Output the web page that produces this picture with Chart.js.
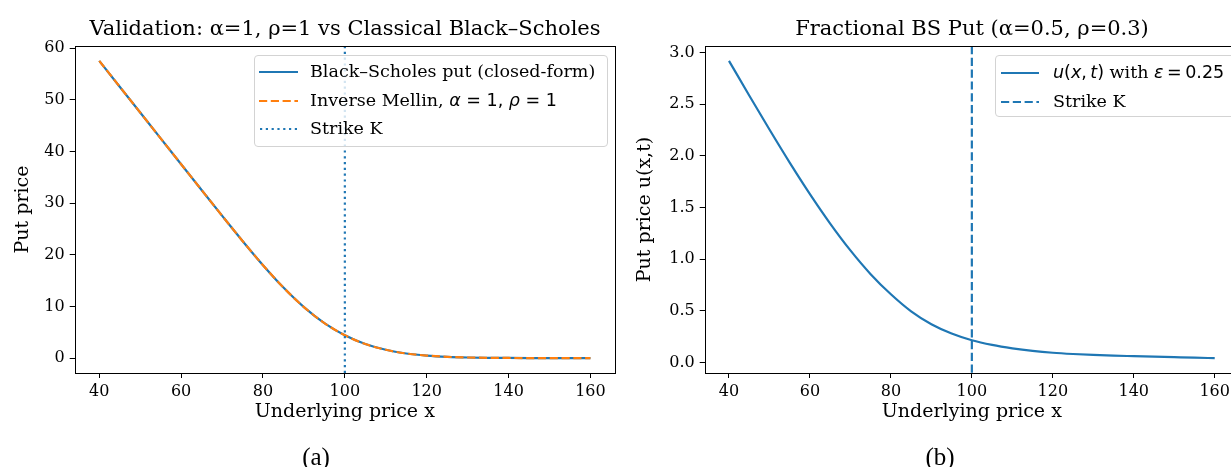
<!DOCTYPE html>
<html><head><meta charset="utf-8">
<script src="https://cdn.jsdelivr.net/npm/chart.js@4.4.1/dist/chart.umd.min.js"></script>
<style>
html,body{margin:0;padding:0;background:#fff;overflow:hidden;width:1231px;height:467px;}
#wrap{position:relative;width:1231px;height:467px;overflow:hidden;}
canvas{position:absolute;top:0;}
.t{position:absolute;font-family:"DejaVu Serif";color:#000;white-space:nowrap;transform:translate(-50%,-50%);line-height:1;}
.sub{font-family:"Liberation Serif";font-size:25px;}
.leg{position:absolute;border:1px solid #d3d3d3;border-radius:4px;background:rgba(255,255,255,0.8);font-family:"DejaVu Serif";font-size:17.5px;color:#000;box-sizing:border-box;}
.row{position:absolute;white-space:nowrap;line-height:20px;height:20px;}
.h{position:absolute;}
.m{font-family:"DejaVu Sans";font-style:italic;}
.s{font-family:"DejaVu Sans";}
</style></head><body>
<div id="wrap">
<canvas id="c1" width="640" height="467" style="left:0"></canvas>
<canvas id="c2" width="640" height="467" style="left:620px"></canvas>

<div class="t" style="left:345px;top:28px;font-size:21px;">Validation: α=1, ρ=1 vs Classical Black–Scholes</div>
<div class="t" style="left:972px;top:28px;font-size:21px;">Fractional BS Put (α=0.5, ρ=0.3)</div>
<div class="t sub" style="left:316px;top:456px;">(a)</div>
<div class="t sub" style="left:940px;top:456px;">(b)</div>

<div class="leg" style="left:254px;top:55px;width:354px;height:92px;">
  <svg class="h" style="left:4px;top:12px" width="40" height="8"><line x1="0" y1="4" x2="39" y2="4" stroke="#1f77b4" stroke-width="2.2"/></svg>
  <div class="row" style="left:55px;top:5px;">Black–Scholes put (closed-form)</div>
  <svg class="h" style="left:4px;top:41px" width="40" height="8"><line x1="0" y1="4" x2="39" y2="4" stroke="#ff7f0e" stroke-width="2.2" stroke-dasharray="8.2 3.6"/></svg>
  <div class="row" style="left:55px;top:34px;">Inverse Mellin, <span class="m">α</span><span class="s"> = 1, </span> <span class="m">ρ</span><span class="s"> = 1</span></div>
  <svg class="h" style="left:4px;top:69px" width="40" height="8"><line x1="1" y1="4" x2="39" y2="4" stroke="#1f77b4" stroke-width="2.2" stroke-dasharray="2.2 3.6"/></svg>
  <div class="row" style="left:55px;top:62px;">Strike K</div>
</div>

<div class="leg" style="left:995px;top:55px;width:242px;height:62px;">
  <svg class="h" style="left:5px;top:13px" width="40" height="8"><line x1="0" y1="4" x2="38" y2="4" stroke="#1f77b4" stroke-width="2.2"/></svg>
  <div class="row" style="left:57px;top:6px;"><span class="m">u</span><span class="s">(</span><span class="m">x</span><span class="s">,&#8201;</span><span class="m">t</span><span class="s">)</span> with <span class="m">ε</span><span class="s">&#8201;=&#8201;0.25</span></div>
  <svg class="h" style="left:5px;top:42px" width="40" height="8"><line x1="0" y1="4" x2="38" y2="4" stroke="#1f77b4" stroke-width="2.2" stroke-dasharray="8.2 3.6"/></svg>
  <div class="row" style="left:57px;top:35px;">Strike K</div>
</div>
</div>

<script>
// ---- data ----
const xValues   = [40,45,50,55,60,65,70,75,80,85,90,95,100,105,110,115,120,125,130,135,140,145,150,155,160];
const bsPut     = [57.53,52.53,47.53,42.53,37.53,32.54,27.57,22.68,17.99,13.66,9.88,6.78,4.42,2.73,1.61,0.90,0.49,0.25,0.12,0.06,0.03,0.013,0.006,0.003,0.001];
const mellinPut = [57.53,52.53,47.53,42.53,37.53,32.54,27.57,22.68,17.99,13.66,9.88,6.78,4.42,2.73,1.61,0.90,0.49,0.25,0.12,0.06,0.03,0.013,0.006,0.003,0.001];
const fracPut   = [2.92,2.585,2.255,1.935,1.63,1.345,1.085,0.855,0.66,0.495,0.37,0.28,0.215,0.170,0.137,0.112,0.094,0.082,0.073,0.066,0.061,0.056,0.051,0.046,0.042];
const strikeK   = 100;
const xTicks      = [40,60,80,100,120,140,160];
const leftYTicks  = [0,10,20,30,40,50,60];
const rightYTicks = [0,0.5,1.0,1.5,2.0,2.5,3.0];

const BLUE = '#1f77b4', ORANGE = '#ff7f0e';
const SERIF = 'DejaVu Serif';

const framePlugin = {
  id: 'frame',
  afterDatasetsDraw(chart, args, opts) {
    const {ctx, chartArea: a, scales} = chart;
    if (opts && opts.strike !== undefined) {
      const px = scales.x.getPixelForValue(opts.strike);
      ctx.save();
      ctx.beginPath();
      ctx.rect(a.left, a.top, a.right - a.left, a.bottom - a.top);
      ctx.clip();
      ctx.strokeStyle = opts.color;
      ctx.lineWidth = 2.2;
      ctx.setLineDash(opts.dash);
      ctx.beginPath();
      ctx.moveTo(px, a.top);
      ctx.lineTo(px, a.bottom);
      ctx.stroke();
      ctx.restore();
    }
  },
  afterDraw(chart) {
    const {ctx, chartArea: a} = chart;
    ctx.save();
    ctx.strokeStyle = '#000';
    ctx.lineWidth = 1;
    ctx.strokeRect(Math.round(a.left) + 0.5, Math.round(a.top) + 0.5, Math.round(a.right - a.left), Math.round(a.bottom - a.top));
    ctx.restore();
  }
};

function xScale() {
  return {
    type: 'linear', min: 34, max: 166,
    afterBuildTicks: s => { s.ticks = xTicks.map(v => ({value: v})); },
    afterFit: s => { s.height = 54; },
    grid: {drawOnChartArea: false, drawTicks: true, tickLength: 5, color: '#000', lineWidth: 1},
    border: {display: false},
    ticks: {color: '#000', font: {family: SERIF, size: 16}, padding: 4, maxRotation: 0, autoSkip: false},
    title: {display: true, text: 'Underlying price x', color: '#000', font: {family: SERIF, size: 19, lineHeight: 1.2}, padding: {top: 0, bottom: 3.6}}
  };
}
function yScale(min, max, ticks, width, label, fmt, tpad) {
  return {
    type: 'linear', min: min, max: max,
    afterBuildTicks: s => { s.ticks = ticks.map(v => ({value: v})); },
    afterFit: s => { s.width = width; },
    grid: {drawOnChartArea: false, drawTicks: true, tickLength: 5, color: '#000', lineWidth: 1},
    border: {display: false},
    ticks: {color: '#000', font: {family: SERIF, size: 16}, padding: 5, autoSkip: false, callback: fmt},
    title: {display: true, text: label, color: '#000', font: {family: SERIF, size: 19, lineHeight: 1.2}, padding: {top: tpad, bottom: 0}}
  };
}
function pts(ys) { return xValues.map((x, i) => ({x: x, y: ys[i]})); }

Chart.defaults.font.family = SERIF;
Chart.defaults.color = '#000';

new Chart(document.getElementById('c1'), {
  type: 'line',
  data: {datasets: [
    {label: 'Black–Scholes put (closed-form)', data: pts(bsPut), order: 1, borderColor: BLUE, borderWidth: 2.2, pointRadius: 0, cubicInterpolationMode: 'monotone', fill: false},
    {label: 'Inverse Mellin, α = 1, ρ = 1', data: pts(mellinPut), order: 0, borderColor: ORANGE, borderWidth: 2.2, borderDash: [8.2, 3.6], pointRadius: 0, cubicInterpolationMode: 'monotone', fill: false}
  ]},
  options: {
    responsive: false, animation: false, devicePixelRatio: 1,
    layout: {padding: {left: 0, right: 25, top: 46, bottom: 40}},
    plugins: {legend: {display: false}, tooltip: {enabled: false}, frame: {strike: strikeK, color: BLUE, dash: [2.2, 3.6]}},
    scales: {
      x: xScale(),
      y: yScale(-2.88, 60.41, leftYTicks, 74.7, 'Put price', v => String(v), 12)
    }
  },
  plugins: [framePlugin]
});

new Chart(document.getElementById('c2'), {
  type: 'line',
  data: {datasets: [
    {label: 'u(x,t) with ε = 0.25', data: pts(fracPut), borderColor: BLUE, borderWidth: 2.2, pointRadius: 0, cubicInterpolationMode: 'monotone', fill: false}
  ]},
  options: {
    responsive: false, animation: false, devicePixelRatio: 1,
    layout: {padding: {left: 0, right: 21, top: 46, bottom: 40}},
    plugins: {legend: {display: false}, tooltip: {enabled: false}, frame: {strike: strikeK, color: BLUE, dash: [8.2, 3.6]}},
    scales: {
      x: xScale(),
      y: yScale(-0.102, 3.064, rightYTicks, 84.7, 'Put price u(x,t)', v => v.toFixed(1), 13.6)
    }
  },
  plugins: [framePlugin]
});
</script>
</body></html>
